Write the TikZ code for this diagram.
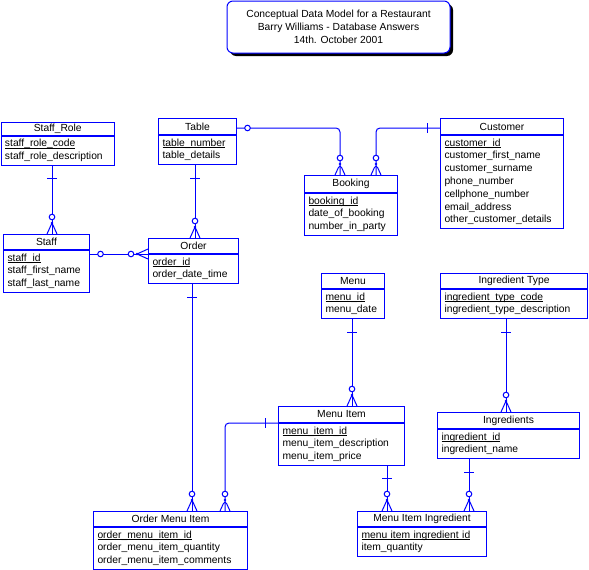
\documentclass[tikz,border=0pt]{standalone}
\usepackage{fontspec}
\setmainfont{Liberation Sans}
\usetikzlibrary{positioning,shadows,decorations.markings}
\definecolor{erblue}{RGB}{0,0,255}
\newcommand{\keyattr}[1]{\underline{\raisebox{0pt}[\height][0pt]{#1}}}

\begin{document}
\begin{tikzpicture}[x=1pt,y=-1pt,
    font=\fontsize{10.3}{12.8}\selectfont,
    ehead/.style={draw=erblue, line width=1pt, anchor=north west, inner sep=0pt, minimum height=15pt},
    ebody/.style={draw=erblue, line width=1pt, anchor=north west, align=left, inner xsep=4pt, inner ysep=1.7pt,
      execute at begin node=\strut, execute at end node=\strut},
    rel/.style={draw=erblue, line width=1pt},
    one/.style={postaction={decorate, decoration={markings,
      mark=at position 13pt with {\draw[rel] (0,-5pt) -- (0,5pt);}}}},
    zeroone/.style={postaction={decorate, decoration={markings,
      mark=at position 10.5pt with {\draw[rel, fill=white] (0,0) circle (2.8pt);}}}},
    many/.style={postaction={decorate, decoration={markings,
      mark=at position -17pt with {\draw[rel, fill=white] (0,0) circle (2.8pt);},
      mark=at position -11pt with {\draw[rel] (11pt,5pt) -- (0,0) -- (11pt,-5pt); \fill[erblue] (0,0) circle (1.3pt);}}}},
    title/.style={draw=erblue, line width=1pt, fill=white, rounded corners=6pt, align=center,
      minimum width=223pt, minimum height=52pt, font=\fontsize{10.3}{12.7}\selectfont,
      drop shadow={shadow xshift=3pt, shadow yshift=-3pt, fill=black, opacity=1}}]

  \useasboundingbox (0,0) rectangle (589,570);

  \node[title] (title) at (338.5,27) {Conceptual Data Model for a Restaurant\\Barry Williams - Database Answers\\14th. October 2001};

  % entities
  \node[ehead, minimum width=113.5pt, minimum height=12.5pt] (staffrole) at (0.5,122) {Staff\_Role};
  \node[ebody, text width=105.5pt] (staffrole-b) at (staffrole.south west) {\keyattr{staff\_role\_code}\\staff\_role\_description};

  \node[ehead, minimum width=78pt, minimum height=16pt] (table) at (158,118) {Table};
  \node[ebody, text width=70pt] (table-b) at (table.south west) {\keyattr{table\_number}\\table\_details};

  \node[ehead, minimum width=86pt] (staff) at (3,234) {Staff};
  \node[ebody, text width=78pt] (staff-b) at (staff.south west) {\keyattr{staff\_id}\\staff\_first\_name\\staff\_last\_name};

  \node[ehead, minimum width=90pt] (order) at (148,238) {Order};
  \node[ebody, text width=82pt] (order-b) at (order.south west) {\keyattr{order\_id}\\order\_date\_time};

  \node[ehead, minimum width=93pt, minimum height=17pt] (booking) at (304,175) {Booking};
  \node[ebody, text width=85pt] (booking-b) at (booking.south west) {\keyattr{booking\_id}\\date\_of\_booking\\number\_in\_party};

  \node[ehead, minimum width=123pt, minimum height=16pt] (customer) at (440,118) {Customer};
  \node[ebody, text width=115pt] (customer-b) at (customer.south west) {\keyattr{customer\_id}\\customer\_first\_name\\customer\_surname\\phone\_number\\cellphone\_number\\email\_address\\other\_customer\_details};

  \node[ehead, minimum width=63pt] (menu) at (321,273) {Menu};
  \node[ebody, text width=55pt] (menu-b) at (menu.south west) {\keyattr{menu\_id}\\menu\_date};

  \node[ehead, minimum width=147pt] (ingtype) at (440,273) {Ingredient Type};
  \node[ebody, text width=139pt] (ingtype-b) at (ingtype.south west) {\keyattr{ingredient\_type\_code}\\ingredient\_type\_description};

  \node[ehead, minimum width=126pt, minimum height=16pt] (menuitem) at (278,406) {Menu Item};
  \node[ebody, text width=118pt] (menuitem-b) at (menuitem.south west) {\keyattr{menu\_item\_id}\\menu\_item\_description\\menu\_item\_price};

  \node[ehead, minimum width=142pt, minimum height=16pt] (ingredients) at (437,412) {Ingredients};
  \node[ebody, text width=134pt] (ingredients-b) at (ingredients.south west) {\keyattr{ingredient\_id}\\ingredient\_name};

  \node[ehead, minimum width=154pt] (omi) at (93,511) {Order Menu Item};
  \node[ebody, text width=146pt] (omi-b) at (omi.south west) {\keyattr{order\_menu\_item\_id}\\order\_menu\_item\_quantity\\order\_menu\_item\_comments};

  \node[ehead, minimum width=129pt] (mii) at (357,511) {Menu Item Ingredient};
  \node[ebody, text width=121pt] (mii-b) at (mii.south west) {\keyattr{menu item ingredient id}\\item\_quantity};

  % relationships
  \draw[rel, one, many] ([xshift=51.5pt]staffrole-b.south west) -- ([xshift=51.5pt]staffrole-b.south west |- staff.north);
  \draw[rel, one, many] ([xshift=37pt]table-b.south west) -- ([xshift=37pt]table-b.south west |- order.north);
  \draw[rel, zeroone, many] (order.south west -| staff.east) -- (order.south west);
  \draw[rel, zeroone, many, rounded corners=4pt] ([yshift=-1.5pt]table.east) -| ([xshift=36pt]booking.north west);
  \draw[rel, one, many, rounded corners=4pt] ([yshift=-1.5pt]customer.west) -| ([xshift=72pt]booking.north west);
  \draw[rel, one, many] ([xshift=44pt]order-b.south west) -- ([xshift=44pt]order-b.south west |- omi.north);
  \draw[rel, one, many, rounded corners=4pt] (menuitem.south west) -| ([xshift=132pt]omi.north west);
  \draw[rel, one, many] ([xshift=31pt]menu-b.south west) -- ([xshift=31pt]menu-b.south west |- menuitem.north);
  \draw[rel, one, many] ([xshift=66pt]ingtype-b.south west) -- ([xshift=66pt]ingtype-b.south west |- ingredients.north);
  \draw[rel, one, many] ([xshift=109pt]menuitem-b.south west) -- ([xshift=109pt]menuitem-b.south west |- mii.north);
  \draw[rel, one, many] ([xshift=32pt]ingredients-b.south west) -- ([xshift=32pt]ingredients-b.south west |- mii.north);

\end{tikzpicture}
\end{document}
